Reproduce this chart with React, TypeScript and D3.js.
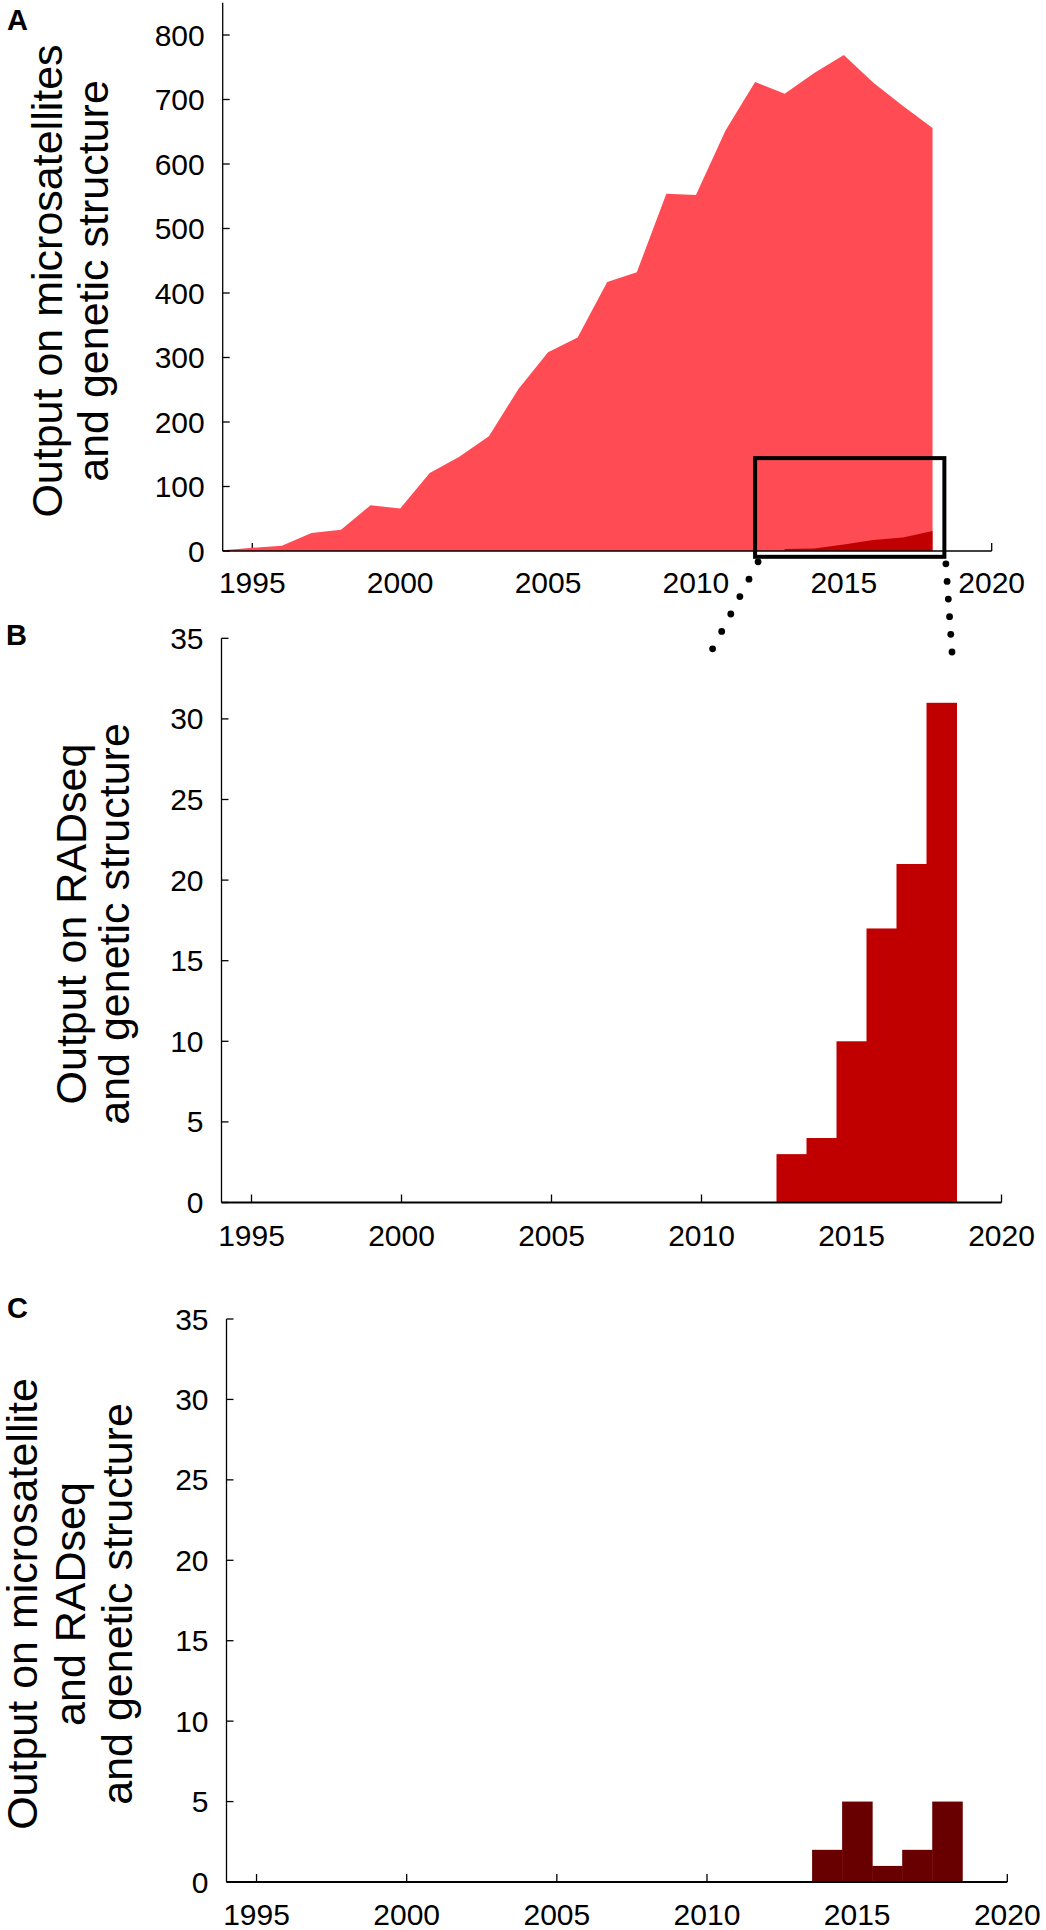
import React from "react";
import * as d3 from "d3";

// ---------- data ----------
const msYears = [1994, 1995, 1996, 1997, 1998, 1999, 2000, 2001, 2002, 2003, 2004, 2005, 2006, 2007, 2008, 2009, 2010, 2011, 2012, 2013, 2014, 2015, 2016, 2017, 2018];
const msValues = [1, 5, 8, 28, 33, 71, 66, 121, 146, 178, 251, 308, 331, 417, 432, 554, 552, 652, 727, 709, 741, 769, 726, 690, 656];

const radYears = [2013, 2014, 2015, 2016, 2017, 2018];
const radValues = [3, 4, 10, 17, 21, 31];

const bothYears = [2014, 2015, 2016, 2017, 2018];
const bothValues = [2, 5, 1, 2, 5];

const xTicks = [1995, 2000, 2005, 2010, 2015, 2020];
const yTicksA = [0, 100, 200, 300, 400, 500, 600, 700, 800];
const yTicksBC = [0, 5, 10, 15, 20, 25, 30, 35];

const titleA = ["Output on microsatellites", "and genetic structure"];
const titleB = ["Output on RADseq", "and genetic structure"];
const titleC = ["Output on microsatellite", "and RADseq", "and genetic structure"];

// zoom box (data units of panel A)
const zoomBox = { x0: 2012, x1: 2018.4, y0: -9, y1: 144 };

const FONT = "'Liberation Sans', Arial, Helvetica, sans-serif";
const COL_MS = "#fe4b54";
const COL_RAD = "#c00000";
const COL_BOTH = "#690000";

function XAxis({ x, y0, labelDy }: { x: d3.ScaleLinear<number, number>; y0: number; labelDy: number }) {
  return (
    <g>
      {xTicks.map((t) => (
        <g key={t}>
          <line x1={x(t)} x2={x(t)} y1={y0} y2={y0 - 8} stroke="#000" strokeWidth={1.3} />
          <text x={x(t)} y={y0 + labelDy} textAnchor="middle" fontSize={30} fontFamily={FONT} fill="#000">
            {t}
          </text>
        </g>
      ))}
    </g>
  );
}

function YAxis({ x, y, ticks, top }: { x: number; y: d3.ScaleLinear<number, number>; ticks: number[]; top: number }) {
  return (
    <g>
      <line x1={x} x2={x} y1={top} y2={y(0)} stroke="#000" strokeWidth={1.3} />
      {ticks.map((t) => (
        <g key={t}>
          <line x1={x} x2={x + 7} y1={y(t)} y2={y(t)} stroke="#000" strokeWidth={1.3} />
          <text x={x - 18} y={y(t) + 10.5} textAnchor="end" fontSize={30} fontFamily={FONT} fill="#000">
            {t}
          </text>
        </g>
      ))}
    </g>
  );
}

function Title({ lines, xs, cy }: { lines: string[]; xs: number[]; cy: number }) {
  return (
    <g>
      {lines.map((l, i) => (
        <text
          key={i}
          transform={`translate(${xs[i]},${cy}) rotate(-90)`}
          textAnchor="middle"
          fontSize={43}
          fontFamily={FONT}
          fill="#000"
        >
          {l}
        </text>
      ))}
    </g>
  );
}

function Dots({ x0, y0, x1, y1, n }: { x0: number; y0: number; x1: number; y1: number; n: number }) {
  const pts = d3.range(n).map((i) => [x0 + ((x1 - x0) * i) / (n - 1), y0 + ((y1 - y0) * i) / (n - 1)]);
  return (
    <g>
      {pts.map((p, i) => (
        <circle key={i} cx={p[0]} cy={p[1]} r={3.4} fill="#000" />
      ))}
    </g>
  );
}

export default function App() {
  // Panel A
  const xA = d3.scaleLinear().domain([1994, 2020]).range([222.7, 991.7]);
  const yA = d3.scaleLinear().domain([0, 850]).range([551, 2.75]);
  // Panel B
  const xB = d3.scaleLinear().domain([1994, 2020]).range([221.5, 1001.5]);
  const yB = d3.scaleLinear().domain([0, 35]).range([1202.5, 638.3]);
  // Panel C
  const xC = d3.scaleLinear().domain([1994, 2020]).range([226.5, 1007.3]);
  const yC = d3.scaleLinear().domain([0, 35]).range([1882, 1319]);

  const areaA = d3
    .area<number>()
    .x((_, i) => xA(msYears[i]))
    .y0(yA(0))
    .y1((d) => yA(d));
  const areaRad = d3
    .area<number>()
    .x((_, i) => xA(radYears[i]))
    .y0(yA(0))
    .y1((d) => yA(d));

  const bx0 = xA(zoomBox.x0);
  const bx1 = xA(zoomBox.x1);
  const by0 = yA(zoomBox.y1);
  const by1 = yA(zoomBox.y0);

  return (
    <svg
      width={1046}
      height={1930}
      style={{ position: "absolute", left: 0, top: 0, background: "#fff" }}
      xmlns="http://www.w3.org/2000/svg"
    >
      <rect x={0} y={0} width={1046} height={1930} fill="#fff" />

      {/* ---------- Panel A ---------- */}
      <text x={7} y={30} fontSize={29} fontWeight="bold" fontFamily={FONT}>A</text>
      <Title lines={titleA} xs={[62, 108]} cy={281} />
      <XAxis x={xA} y0={yA(0)} labelDy={42} />
      <path d={areaA(msValues) || ""} fill={COL_MS} />
      <path d={areaRad(radValues) || ""} fill={COL_RAD} />
      <line x1={xA(1994)} x2={xA(2020)} y1={yA(0)} y2={yA(0)} stroke="#000" strokeWidth={1.5} />
      <YAxis x={xA(1994)} y={yA} ticks={yTicksA} top={yA(850)} />
      <rect x={bx0} y={by0} width={bx1 - bx0} height={by1 - by0} fill="none" stroke="#000" strokeWidth={4} />
      <Dots x0={bx0 + 3} y0={by1 + 5} x1={xB(2010.37)} y1={yB(34.35)} n={6} />
      <Dots x0={bx1 + 1.5} y0={by1 + 7} x1={xB(2018.35)} y1={yB(34.15)} n={6} />

      {/* ---------- Panel B ---------- */}
      <text x={6} y={645} fontSize={29} fontWeight="bold" fontFamily={FONT}>B</text>
      <Title lines={titleB} xs={[86, 129]} cy={924} />
      <XAxis x={xB} y0={yB(0)} labelDy={43} />
      {radYears.map((yr, i) => (
        <rect
          key={yr}
          x={xB(yr - 0.5)}
          y={yB(radValues[i])}
          width={xB(yr + 0.5) - xB(yr - 0.5) + 0.5}
          height={yB(0) - yB(radValues[i])}
          fill={COL_RAD}
        />
      ))}
      <line x1={xB(1994)} x2={xB(2020)} y1={yB(0)} y2={yB(0)} stroke="#000" strokeWidth={1.8} />
      <YAxis x={xB(1994)} y={yB} ticks={yTicksBC} top={yB(35)} />

      {/* ---------- Panel C ---------- */}
      <text x={7} y={1318} fontSize={29} fontWeight="bold" fontFamily={FONT}>C</text>
      <Title lines={titleC} xs={[37, 85, 132]} cy={1604} />
      <XAxis x={xC} y0={yC(0)} labelDy={43} />
      {bothYears.map((yr, i) => (
        <rect
          key={yr}
          x={xC(yr - 0.5)}
          y={yC(bothValues[i])}
          width={xC(yr + 0.5) - xC(yr - 0.5) + 0.5}
          height={yC(0) - yC(bothValues[i])}
          fill={COL_BOTH}
        />
      ))}
      <line x1={xC(1994)} x2={xC(2020)} y1={yC(0)} y2={yC(0)} stroke="#000" strokeWidth={1.8} />
      <YAxis x={xC(1994)} y={yC} ticks={yTicksBC} top={yC(35)} />
    </svg>
  );
}
